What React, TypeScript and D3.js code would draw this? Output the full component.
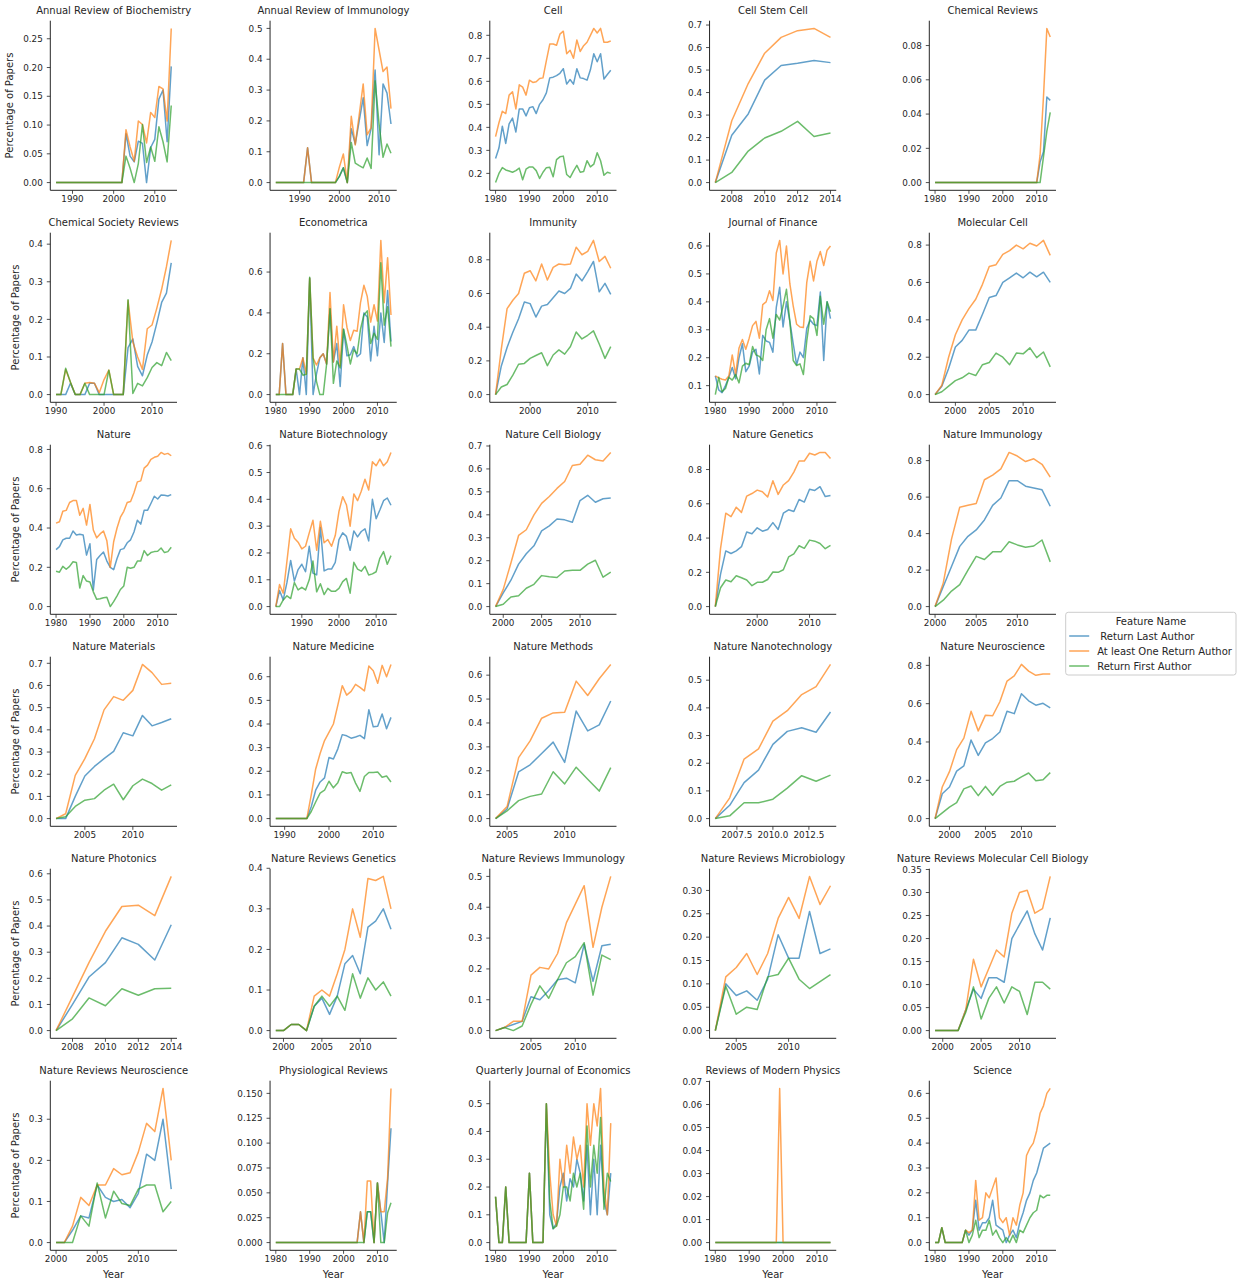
import React from "react";
import * as d3 from "d3";

// one entry per facet, in reading order
const journals = [
  "Annual Review of Biochemistry", "Annual Review of Immunology", "Cell", "Cell Stem Cell", "Chemical Reviews",
  "Chemical Society Reviews", "Econometrica", "Immunity", "Journal of Finance", "Molecular Cell",
  "Nature", "Nature Biotechnology", "Nature Cell Biology", "Nature Genetics", "Nature Immunology",
  "Nature Materials", "Nature Medicine", "Nature Methods", "Nature Nanotechnology", "Nature Neuroscience",
  "Nature Photonics", "Nature Reviews Genetics", "Nature Reviews Immunology", "Nature Reviews Microbiology", "Nature Reviews Molecular Cell Biology",
  "Nature Reviews Neuroscience", "Physiological Reviews", "Quarterly Journal of Economics", "Reviews of Modern Physics", "Science",
];

// first year of each journal's series (one value per year after that)
const startYears = [
  1986, 1984, 1980, 2007, 1980,
  1990, 1980, 1994, 1980, 1997,
  1980, 1983, 1999, 1992, 2000,
  2002, 1988, 2004, 2006, 1998,
  2007, 1999, 2001, 2003, 1999,
  2000, 1980, 1980, 1980, 1980,
];

const seriesNames = [" Return Last Author", "At least One Return Author", "Return First Author"];
const seriesColors = ["#1f77b4", "#ff7f0e", "#2ca02c"];

// " Return Last Author"
const lastAuthor: number[][] = [
  [0,0,0,0,0,0,0,0,0,0, 0,0,0,0,0,0,0, 0.085,0.046,0.036,0.072,0.068,0.0,0.061,0.075,0.145,0.161,0.071,0.202],
  [0,0,0,0,0,0,0,0, 0.113, 0,0,0,0,0,0,0, 0.02,0.048,0, 0.175,0.125,0.2,0.275,0.12,0.175,0.365,0.09,0.32,0.29,0.19],
  [0.265,0.31,0.405,0.33,0.415,0.44,0.38,0.48,0.48,0.45, 0.485,0.49,0.46,0.5,0.52,0.55,0.615,0.618,0.625,0.635, 0.655,0.588,0.608,0.588,0.655,0.615,0.612,0.605,0.65,0.72, 0.685,0.72,0.61,0.63,0.648],
  [0,0.21,0.305,0.455,0.52,0.53,0.542,0.533],
  [0,0,0,0,0,0,0,0,0,0, 0,0,0,0,0,0,0,0,0,0, 0,0,0,0,0,0,0,0,0,0, 0, 0.012,0.018,0.05,0.048],
  [0,0,0,0.03,0,0,0,0.03,0.03,0, 0,0,0,0,0, 0.125,0.148,0.075,0.05,0.105, 0.14,0.19,0.245,0.27,0.35],
  [0,0,0.25,0,0,0,0.125,0,0.18,0, 0.57,0,0.1,0.18,0.2,0.15,0.42,0.16,0.25,0.04, 0.32,0.19,0.195,0.235,0.185,0.2,0.4,0.38,0.165,0.335, 0.19,0.4,0.255,0.51,0.26],
  [0,0.17,0.28,0.37,0.45,0.55,0.54,0.46,0.525,0.535,0.575,0.615,0.6,0.63,0.715,0.675,0.73,0.79,0.61,0.66,0.595],
  [0.135,0.085,0.075,0.1,0.13,0.165,0.125,0.2,0.25,0.15, 0.17,0.22,0.23,0.142,0.28,0.26,0.255,0.22,0.38,0.452, 0.31,0.4,0.33,0.25,0.175,0.22,0.2,0.305,0.335,0.32, 0.315,0.435,0.19,0.4,0.34],
  [0,0.045,0.14,0.255,0.29,0.345,0.345,0.43,0.52,0.53,0.6,0.625,0.65,0.625,0.655,0.63,0.655,0.6],
  [0.29,0.305,0.34,0.348,0.348,0.385,0.365,0.368,0.365,0.262, 0.32,0.085,0.24,0.26,0.278,0.232,0.2,0.188,0.245,0.29, 0.295,0.325,0.34,0.38,0.44,0.42,0.49,0.49,0.525,0.562, 0.548,0.568,0.567,0.563,0.57],
  [0,0.06,0.025,0.09,0.172,0.095,0.138, 0.158,0.13,0.225,0.125,0.118,0.295,0.133,0.14,0.14,0.165, 0.25,0.275,0.262,0.21,0.282,0.26,0.28,0.29,0.245,0.4, 0.328,0.36,0.395,0.405,0.378],
  [0,0.06,0.115,0.185,0.23,0.265,0.33,0.352,0.382,0.378,0.368,0.462,0.485,0.455,0.47,0.473],
  [0,0.19,0.325,0.31,0.325,0.35,0.435,0.425,0.46,0.44,0.45,0.49,0.45,0.545,0.565,0.555,0.625,0.61,0.685,0.678,0.7,0.642,0.648],
  [0,0.11,0.22,0.33,0.385,0.42,0.475,0.555,0.595,0.69,0.69,0.66,0.65,0.64,0.55],
  [0,0,0.1,0.192,0.235,0.27,0.303,0.387,0.373,0.465,0.418,0.433,0.45],
  [0,0,0,0,0,0,0,0, 0.05,0.12,0.155,0.172,0.258,0.252,0.295,0.355,0.35,0.34,0.345,0.352,0.338,0.46,0.388,0.39,0.442,0.38,0.428],
  [0,0.04,0.195,0.225,0.272,0.32,0.235,0.45,0.367,0.392,0.492],
  [0,0.048,0.13,0.175,0.268,0.315,0.328,0.312,0.385],
  [0,0.13,0.165,0.248,0.275,0.41,0.33,0.395,0.418,0.452,0.56,0.548,0.652,0.615,0.592,0.602,0.578],
  [0,0.1,0.205,0.26,0.355,0.33,0.27,0.405],
  [0,0,0.015,0.015,0,0.06,0.08,0.04,0.085,0.165,0.185,0.14,0.255,0.27,0.3,0.25],
  [0,0.01,0.02,0.03,0.11,0.1,0.13,0.165,0.17,0.155,0.28,0.16,0.275,0.28],
  [0,0.1,0.075,0.085,0.065,0.11,0.205,0.155,0.155,0.255,0.165,0.175],
  [0,0,0,0,0.045,0.09,0.07,0.115,0.115,0.105,0.2,0.23,0.26,0.21,0.175,0.245],
  [0,0,0.03,0.065,0.06,0.14,0.11,0.1,0.105,0.085,0.12,0.215,0.2,0.3,0.13],
  [0,0,0,0,0,0,0,0,0,0, 0,0,0,0,0,0,0,0,0,0, 0,0,0,0,0, 0.031,0,0.031,0.031,0,0.06,0.031,0,0.06,0.115],
  [0.165,0,0,0.2,0,0,0,0,0,0, 0.25,0,0,0,0,0.5,0.1,0.05,0.07,0.2, 0.25,0.15,0.23,0.2,0.3,0.25,0.15,0.35,0.1,0.3, 0.1,0.35,0.15,0.1,0.25],
  [0,0,0,0,0,0,0,0,0,0, 0,0,0,0,0,0,0,0,0,0, 0,0,0,0,0,0,0,0,0,0, 0,0,0,0,0],
  [0,0,0.06,0,0,0,0,0,0, 0.05,0.03,0.05,0.17,0.05,0.08,0.08,0.1,0.17,0.07,0.06, 0.05,0,0.03,0.05,0.02,0.08,0.12,0.17,0.2,0.25, 0.28,0.33,0.38,0.39,0.4],
];

// "At least One Return Author"
const anyAuthor: number[][] = [
  [0,0,0,0,0,0,0,0,0,0, 0,0,0,0,0,0,0, 0.092,0.062,0.037,0.107,0.101,0.069,0.122,0.113,0.167,0.163,0.107,0.268],
  [0,0,0,0,0,0,0,0, 0.113, 0,0,0,0,0,0,0, 0.05,0.093,0, 0.215,0.122,0.22,0.32,0.155,0.178,0.5,0.43,0.36,0.375,0.24],
  [0.36,0.42,0.47,0.46,0.54,0.555,0.48,0.585,0.575,0.54, 0.605,0.595,0.598,0.612,0.615,0.69,0.762,0.762,0.757,0.805, 0.818,0.72,0.735,0.7,0.78,0.73,0.755,0.77,0.8,0.83, 0.81,0.83,0.77,0.77,0.775],
  [0,0.275,0.44,0.575,0.645,0.675,0.685,0.645],
  [0,0,0,0,0,0,0,0,0,0, 0,0,0,0,0,0,0,0,0,0, 0,0,0,0,0,0,0,0,0,0, 0, 0.016,0.05,0.09,0.085],
  [0,0,0.067,0.033,0,0,0.03,0.032,0.03,0.005, 0.04,0.065,0,0,0, 0.25,0.14,0.1,0.067,0.175, 0.185,0.23,0.28,0.34,0.41],
  [0,0,0.25,0,0,0,0.125,0.125,0.18,0.1, 0.57,0.18,0.145,0.18,0.2,0.15,0.5,0.16,0.335,0.14, 0.44,0.33,0.265,0.315,0.31,0.45,0.535,0.48,0.355,0.44, 0.36,0.755,0.45,0.67,0.39],
  [0,0.27,0.51,0.56,0.6,0.72,0.735,0.675,0.775,0.68,0.755,0.775,0.77,0.775,0.875,0.83,0.85,0.915,0.79,0.82,0.75],
  [0.135,0.128,0.123,0.12,0.135,0.21,0.14,0.235,0.265,0.23, 0.27,0.315,0.33,0.27,0.39,0.4,0.44,0.405,0.575,0.62, 0.5,0.6,0.465,0.385,0.32,0.31,0.308,0.47,0.545,0.475, 0.545,0.58,0.53,0.585,0.6],
  [0,0.05,0.2,0.32,0.4,0.46,0.51,0.59,0.685,0.695,0.75,0.77,0.8,0.78,0.81,0.795,0.825,0.745],
  [0.425,0.432,0.485,0.49,0.53,0.54,0.54,0.465,0.5,0.415, 0.52,0.39,0.35,0.37,0.385,0.335,0.2,0.33,0.4,0.455, 0.485,0.53,0.535,0.58,0.635,0.64,0.705,0.72,0.75,0.76, 0.765,0.785,0.775,0.78,0.768],
  [0,0.082,0.05,0.17,0.29,0.255,0.24, 0.215,0.225,0.275,0.322,0.21,0.318,0.238,0.25,0.225,0.265, 0.355,0.41,0.38,0.3,0.42,0.395,0.43,0.475,0.435,0.54, 0.525,0.55,0.525,0.54,0.575],
  [0,0.075,0.19,0.31,0.335,0.4,0.45,0.48,0.515,0.545,0.615,0.62,0.66,0.64,0.635,0.672],
  [0,0.34,0.545,0.525,0.58,0.55,0.645,0.66,0.68,0.67,0.64,0.735,0.655,0.71,0.735,0.785,0.85,0.85,0.895,0.885,0.9,0.9,0.865],
  [0,0.13,0.37,0.545,0.555,0.565,0.695,0.72,0.755,0.845,0.825,0.795,0.81,0.78,0.71],
  [0,0.022,0.195,0.27,0.36,0.49,0.55,0.533,0.578,0.695,0.658,0.605,0.61],
  [0,0,0,0,0,0,0,0, 0.1,0.21,0.275,0.33,0.365,0.4,0.48,0.562,0.522,0.538,0.568,0.555,0.54,0.645,0.625,0.572,0.648,0.6,0.652],
  [0,0.05,0.255,0.325,0.42,0.442,0.445,0.575,0.515,0.585,0.645],
  [0,0.075,0.215,0.252,0.352,0.39,0.448,0.477,0.557],
  [0,0.165,0.245,0.36,0.42,0.56,0.458,0.54,0.537,0.61,0.718,0.745,0.805,0.77,0.748,0.755,0.755],
  [0,0.13,0.26,0.38,0.475,0.48,0.44,0.59],
  [0,0,0.015,0.015,0,0.085,0.1,0.085,0.14,0.2,0.3,0.23,0.375,0.37,0.38,0.3],
  [0,0.01,0.03,0.03,0.18,0.205,0.2,0.25,0.35,0.41,0.47,0.27,0.4,0.5],
  [0,0.115,0.135,0.165,0.12,0.165,0.24,0.285,0.24,0.33,0.27,0.31],
  [0,0,0,0,0.045,0.155,0.095,0.135,0.175,0.16,0.255,0.3,0.305,0.255,0.265,0.335],
  [0,0,0.04,0.11,0.09,0.14,0.14,0.18,0.165,0.17,0.22,0.29,0.27,0.375,0.2],
  [0,0,0,0,0,0,0,0,0,0, 0,0,0,0,0,0,0,0,0,0, 0,0,0,0,0, 0.031,0,0.062,0.062,0,0.06,0.031,0.031,0.065,0.155],
  [0.165,0,0,0.2,0,0,0,0,0,0, 0.25,0,0,0,0,0.5,0.25,0.1,0.06,0.3, 0.2,0.35,0.25,0.38,0.3,0.35,0.2,0.5,0.35,0.5, 0.42,0.555,0.2,0.1,0.43],
  [0,0,0,0,0,0,0,0,0,0, 0,0,0,0,0,0,0,0,0,0.067, 0,0,0,0,0,0,0,0,0,0, 0,0,0,0,0],
  [0,0,0.06,0,0,0,0,0,0, 0.05,0.04,0.05,0.25,0.09,0.1,0.2,0.18,0.22,0.26,0.1, 0.08,0.1,0.03,0.1,0.07,0.15,0.2,0.35,0.38,0.4, 0.45,0.52,0.55,0.6,0.62],
];

// "Return First Author"
const firstAuthor: number[][] = [
  [0,0,0,0,0,0,0,0,0,0, 0,0,0,0,0,0,0, 0.046,0.025,0,0.033,0.101,0.035,0.062,0.037,0.097,0.071,0.036,0.134],
  [0,0,0,0,0,0,0,0, 0, 0,0,0,0,0,0,0, 0.02,0.048,0, 0.13,0.063,0.055,0.048,0.08,0.046,0.33,0.19,0.082,0.125,0.095],
  [0.16,0.2,0.225,0.215,0.21,0.205,0.212,0.223,0.172,0.218, 0.228,0.228,0.212,0.178,0.205,0.225,0.227,0.185,0.26,0.272, 0.275,0.195,0.182,0.21,0.235,0.205,0.208,0.255,0.228,0.24, 0.29,0.255,0.192,0.205,0.2],
  [0,0.045,0.14,0.198,0.228,0.272,0.205,0.22],
  [0,0,0,0,0,0,0,0,0,0, 0,0,0,0,0,0,0,0,0,0, 0,0,0,0,0,0,0,0,0,0, 0, 0,0.015,0.03,0.041],
  [0,0,0.07,0.033,0,0,0.03,0,0,0, 0,0.065,0,0,0, 0.252,0.003,0.03,0.023,0.045, 0.072,0.085,0.077,0.112,0.09],
  [0,0,0,0,0,0,0.125,0.125,0.095,0.1, 0.575,0.18,0.065,0,0,0.15,0.42,0.055,0.165,0.13, 0.32,0.24,0.15,0.22,0.2,0.32,0.39,0.41,0.25,0.3, 0.27,0.645,0.34,0.43,0.235],
  [0,0.045,0.06,0.115,0.18,0.185,0.215,0.232,0.248,0.172,0.235,0.265,0.24,0.285,0.372,0.33,0.352,0.378,0.3,0.215,0.285],
  [0.068,0.13,0.078,0.09,0.13,0.12,0.14,0.11,0.17,0.18, 0.175,0.24,0.21,0.205,0.19,0.3,0.34,0.27,0.355,0.335, 0.385,0.445,0.33,0.19,0.172,0.178,0.14,0.26,0.35,0.34, 0.28,0.42,0.32,0.4,0.365],
  [0,0.015,0.045,0.075,0.09,0.115,0.102,0.16,0.172,0.222,0.2,0.16,0.222,0.218,0.25,0.198,0.228,0.148],
  [0.18,0.175,0.205,0.19,0.205,0.228,0.225,0.095,0.158,0.13, 0.125,0.075,0.037,0.04,0.045,0.047,0,0.025,0.055,0.087, 0.105,0.2,0.195,0.2,0.232,0.232,0.285,0.26,0.275,0.28, 0.282,0.298,0.275,0.28,0.302],
  [0,0,0.025,0.04,0.03,0.09,0.062, 0.072,0.062,0.1,0.17,0.055,0.085,0.045,0.068,0.057,0.057, 0.068,0.093,0.105,0.05,0.165,0.14,0.132,0.15,0.118,0.122, 0.13,0.18,0.205,0.158,0.19],
  [0,0.01,0.042,0.047,0.08,0.097,0.135,0.13,0.127,0.155,0.158,0.158,0.185,0.202,0.128,0.15],
  [0,0.11,0.155,0.145,0.18,0.168,0.155,0.122,0.142,0.142,0.158,0.202,0.2,0.215,0.29,0.308,0.355,0.34,0.388,0.382,0.368,0.338,0.358],
  [0,0.035,0.085,0.12,0.2,0.275,0.258,0.3,0.3,0.355,0.338,0.325,0.332,0.365,0.245],
  [0,0.008,0.055,0.083,0.09,0.128,0.155,0.085,0.148,0.178,0.158,0.128,0.152],
  [0,0,0,0,0,0,0,0, 0.03,0.07,0.108,0.12,0.158,0.13,0.152,0.198,0.192,0.195,0.15,0.115,0.178,0.195,0.195,0.197,0.175,0.18,0.155],
  [0,0.032,0.075,0.093,0.103,0.196,0.145,0.215,0.165,0.115,0.213],
  [0,0.01,0.057,0.057,0.07,0.11,0.155,0.135,0.157],
  [0,0.03,0.06,0.083,0.155,0.17,0.12,0.168,0.122,0.168,0.19,0.195,0.218,0.238,0.198,0.203,0.24],
  [0,0.045,0.125,0.095,0.16,0.135,0.16,0.162],
  [0,0,0.015,0.015,0,0.06,0.085,0.06,0.085,0.05,0.14,0.08,0.13,0.1,0.12,0.085],
  [0,0.01,0,0.015,0.085,0.145,0.105,0.165,0.22,0.24,0.285,0.115,0.245,0.23],
  [0,0.095,0.035,0.05,0.045,0.115,0.12,0.155,0.11,0.09,0.105,0.12],
  [0,0,0,0,0.04,0.095,0.025,0.07,0.095,0.06,0.095,0.085,0.035,0.105,0.105,0.09],
  [0,0,0,0.065,0.04,0.145,0.06,0.125,0.095,0.09,0.13,0.14,0.14,0.075,0.1],
  [0,0,0,0,0,0,0,0,0,0, 0,0,0,0,0,0,0,0,0,0, 0,0,0,0,0, 0,0,0.031,0.031,0,0.06,0,0,0.03,0.04],
  [0.165,0,0,0.2,0,0,0,0,0,0, 0.25,0,0,0,0,0.5,0.15,0.05,0.06,0.1, 0.2,0.2,0.15,0.25,0.2,0.25,0.12,0.42,0.2,0.35, 0.25,0.45,0.12,0.25,0.22],
  [0,0,0,0,0,0,0,0,0,0, 0,0,0,0,0,0,0,0,0,0, 0,0,0,0,0,0,0,0,0,0, 0,0,0,0,0],
  [0,0,0.06,0,0,0,0,0,0, 0.05,0,0.03,0.09,0.02,0.05,0.05,0.09,0.03,0.05,0.02, 0,0.02,0,0.03,0,0.05,0.04,0.07,0.1,0.12, 0.13,0.19,0.18,0.19,0.19],
];

const xTickLabels: string[][] = [
  ["1990", "2000", "2010"], ["1990", "2000", "2010"], ["1980", "1990", "2000", "2010"], ["2008", "2010", "2012", "2014"], ["1980", "1990", "2000", "2010"],
  ["1990", "2000", "2010"], ["1980", "1990", "2000", "2010"], ["2000", "2010"], ["1980", "1990", "2000", "2010"], ["2000", "2005", "2010"],
  ["1980", "1990", "2000", "2010"], ["1990", "2000", "2010"], ["2000", "2005", "2010"], ["2000", "2010"], ["2000", "2005", "2010"],
  ["2005", "2010"], ["1990", "2000", "2010"], ["2005", "2010"], ["2007.5", "2010.0", "2012.5"], ["2000", "2005", "2010"],
  ["2008", "2010", "2012", "2014"], ["2000", "2005", "2010"], ["2005", "2010"], ["2005", "2010"], ["2000", "2005", "2010"],
  ["2000", "2005", "2010"], ["1980", "1990", "2000", "2010"], ["1980", "1990", "2000", "2010"], ["1980", "1990", "2000", "2010"], ["1980", "1990", "2000", "2010"],
];

const yTickLabels: string[][] = [
  ["0.00", "0.05", "0.10", "0.15", "0.20", "0.25"],
  ["0.0", "0.1", "0.2", "0.3", "0.4", "0.5"],
  ["0.2", "0.3", "0.4", "0.5", "0.6", "0.7", "0.8"],
  ["0.0", "0.1", "0.2", "0.3", "0.4", "0.5", "0.6", "0.7"],
  ["0.00", "0.02", "0.04", "0.06", "0.08"],
  ["0.0", "0.1", "0.2", "0.3", "0.4"],
  ["0.0", "0.2", "0.4", "0.6"],
  ["0.0", "0.2", "0.4", "0.6", "0.8"],
  ["0.1", "0.2", "0.3", "0.4", "0.5", "0.6"],
  ["0.0", "0.2", "0.4", "0.6", "0.8"],
  ["0.0", "0.2", "0.4", "0.6", "0.8"],
  ["0.0", "0.1", "0.2", "0.3", "0.4", "0.5", "0.6"],
  ["0.0", "0.1", "0.2", "0.3", "0.4", "0.5", "0.6", "0.7"],
  ["0.0", "0.2", "0.4", "0.6", "0.8"],
  ["0.0", "0.2", "0.4", "0.6", "0.8"],
  ["0.0", "0.1", "0.2", "0.3", "0.4", "0.5", "0.6", "0.7"],
  ["0.0", "0.1", "0.2", "0.3", "0.4", "0.5", "0.6"],
  ["0.0", "0.1", "0.2", "0.3", "0.4", "0.5", "0.6"],
  ["0.0", "0.1", "0.2", "0.3", "0.4", "0.5"],
  ["0.0", "0.2", "0.4", "0.6", "0.8"],
  ["0.0", "0.1", "0.2", "0.3", "0.4", "0.5", "0.6"],
  ["0.0", "0.1", "0.2", "0.3", "0.4"],
  ["0.0", "0.1", "0.2", "0.3", "0.4", "0.5"],
  ["0.00", "0.05", "0.10", "0.15", "0.20", "0.25", "0.30"],
  ["0.00", "0.05", "0.10", "0.15", "0.20", "0.25", "0.30", "0.35"],
  ["0.0", "0.1", "0.2", "0.3"],
  ["0.000", "0.025", "0.050", "0.075", "0.100", "0.125", "0.150"],
  ["0.0", "0.1", "0.2", "0.3", "0.4", "0.5"],
  ["0.00", "0.01", "0.02", "0.03", "0.04", "0.05", "0.06", "0.07"],
  ["0.0", "0.1", "0.2", "0.3", "0.4", "0.5", "0.6"],
];

const WIDTH = 1241;
const HEIGHT = 1288;
const PANEL_W = 126.7;
const PANEL_H = 169.6;
const LEFT0 = 50.3;
const TOP0 = 20.7;
const COL_STEP = 219.75;
const ROW_STEP = 212;
const NCOL = 5;
const INK = "#262626";
const FONT = "'DejaVu Sans', sans-serif";
const TICK_FS = 8.8;

// rough DejaVu Sans width of a numeric tick label
const labelWidth = (s: string) =>
  d3.sum(s.split(""), (c) => (c === "." ? 0.318 : 0.636)) * TICK_FS;

const Panel = ({ i }: { i: number }) => {
  const col = i % NCOL;
  const row = Math.floor(i / NCOL);
  const left = LEFT0 + col * COL_STEP;
  const top = TOP0 + row * ROW_STEP;
  const nRows = Math.ceil(journals.length / NCOL);

  const series = [lastAuthor[i], anyAuthor[i], firstAuthor[i]];
  const years = series[0].map((_, k) => startYears[i] + k);

  const [x0, x1] = d3.extent(years) as [number, number];
  const xPad = (x1 - x0) * 0.05;
  const x = d3.scaleLinear().domain([x0 - xPad, x1 + xPad]).range([0, PANEL_W]);

  const all = series.flat();
  const y0 = d3.min(all) as number;
  const y1 = d3.max(all) as number;
  const yPad = (y1 - y0) * 0.05;
  const y = d3.scaleLinear().domain([y0 - yPad, y1 + yPad]).range([PANEL_H, 0]);

  const line = d3
    .line<number>()
    .x((_, k) => x(years[k]))
    .y((d) => y(d));

  const yTicks = yTickLabels[i];
  const maxLabel = d3.max(yTicks, labelWidth) as number;

  return (
    <g transform={`translate(${left},${top})`}>
      {series.map((s, k) => (
        <path
          key={k}
          d={line(s) || ""}
          fill="none"
          stroke={seriesColors[k]}
          strokeOpacity={0.7}
          strokeWidth={1.5}
          strokeLinejoin="round"
          strokeLinecap="butt"
        />
      ))}

      {/* spines (despined: left + bottom only) */}
      <line x1={0} y1={0} x2={0} y2={PANEL_H} stroke={INK} strokeWidth={1} />
      <line x1={0} y1={PANEL_H} x2={PANEL_W} y2={PANEL_H} stroke={INK} strokeWidth={1} />

      {xTickLabels[i].map((t) => (
        <g key={t} transform={`translate(${x(+t)},${PANEL_H})`}>
          <line y2={3.5} stroke={INK} strokeWidth={0.8} />
          <text y={12} textAnchor="middle" fontSize={TICK_FS} fill={INK}>
            {t}
          </text>
        </g>
      ))}

      {yTicks.map((t) => (
        <g key={t} transform={`translate(0,${y(+t)})`}>
          <line x2={-3.5} stroke={INK} strokeWidth={0.8} />
          <text x={-7.5} dy={3.2} textAnchor="end" fontSize={TICK_FS} fill={INK}>
            {t}
          </text>
        </g>
      ))}

      <text x={PANEL_W / 2} y={-6.5} textAnchor="middle" fontSize={10} fill={INK}>
        {journals[i]}
      </text>

      {col === 0 && (
        <text
          transform={`translate(${-7 - maxLabel - 10.5},${PANEL_H / 2}) rotate(-90)`}
          textAnchor="middle"
          fontSize={10}
          fill={INK}
        >
          Percentage of Papers
        </text>
      )}

      {row === nRows - 1 && (
        <text x={PANEL_W / 2} y={PANEL_H + 28} textAnchor="middle" fontSize={10} fill={INK}>
          Year
        </text>
      )}
    </g>
  );
};

const Legend = () => {
  const lx = 1065.7;
  const ly = 612.3;
  return (
    <g>
      <rect
        x={lx}
        y={ly}
        width={170.3}
        height={62.7}
        rx={2.5}
        fill="#ffffff"
        fillOpacity={0.8}
        stroke="#cccccc"
        strokeWidth={1}
      />
      <text x={lx + 85.2} y={ly + 12.7} textAnchor="middle" fontSize={10} fill={INK}>
        Feature Name
      </text>
      {seriesNames.map((name, k) => {
        const cy = ly + 23.7 + k * 15;
        return (
          <g key={name}>
            <line
              x1={lx + 3.5}
              x2={lx + 23.5}
              y1={cy}
              y2={cy}
              stroke={seriesColors[k]}
              strokeOpacity={0.7}
              strokeWidth={1.5}
            />
            <text
              x={lx + 31.5}
              y={cy + 3.6}
              fontSize={10}
              fill={INK}
              xmlSpace="preserve"
              style={{ whiteSpace: "pre" }}
            >
              {name}
            </text>
          </g>
        );
      })}
    </g>
  );
};

export default function App() {
  return (
    <svg
      width={WIDTH}
      height={HEIGHT}
      style={{ position: "absolute", left: 0, top: 0, background: "#ffffff" }}
      fontFamily={FONT}
    >
      <rect width={WIDTH} height={HEIGHT} fill="#ffffff" />
      {journals.map((_, i) => (
        <Panel key={i} i={i} />
      ))}
      <Legend />
    </svg>
  );
}
